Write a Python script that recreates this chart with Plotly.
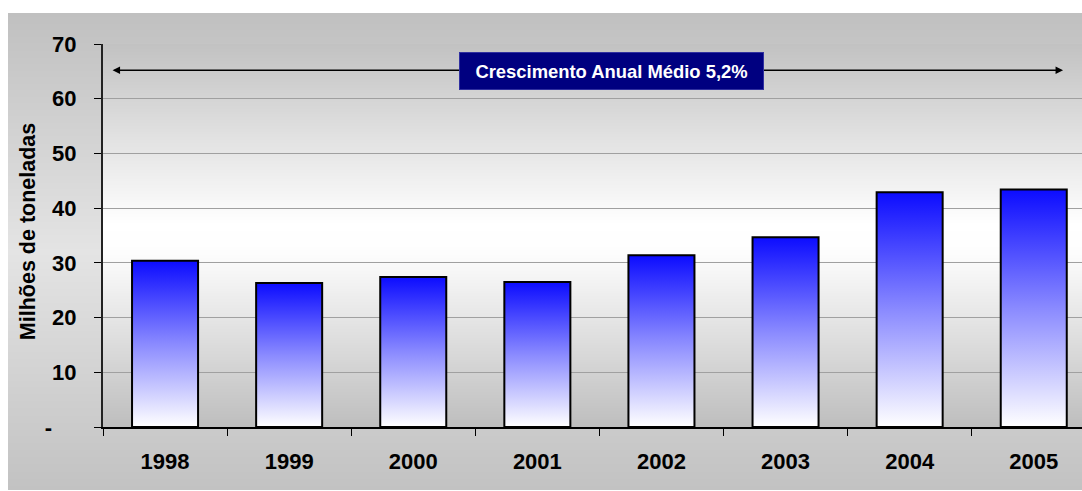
import base64
import struct
import zlib

import plotly.graph_objects as go

# ---------------- data ----------------
years = ["1998", "1999", "2000", "2001", "2002", "2003", "2004", "2005"]
values = [30.4, 26.3, 27.4, 26.5, 31.4, 34.7, 42.9, 43.4]
y_tickvals = [0, 10, 20, 30, 40, 50, 60, 70]
y_ticktext = ["-\u00a0\u00a0\u00a0\u00a0", "10", "20", "30", "40", "50", "60", "70"]
y_title = "Milhões de toneladas"
growth_label = "Crescimento Anual Médio 5,2%"
growth_level = 65.2
arrow_from = -0.435
arrow_to = 7.236
label_pos = 3.6

# ---------------- helpers ----------------
W, H = 1082, 491
ML, MR, MT, MB = 103, 0, 44, 64
PW, PH = W - ML - MR, H - MT - MB
BAR_W = 0.532
FONT = "Liberation Sans, Arial, sans-serif"


def hex2rgb(h):
    h = h.lstrip("#")
    return tuple(int(h[i:i + 2], 16) for i in (0, 2, 4))


def gradient_png(stops, n=400):
    rows = []
    for k in range(n):
        t = k / (n - 1)
        for (t0, c0), (t1, c1) in zip(stops[:-1], stops[1:]):
            if t0 <= t <= t1:
                f = 0 if t1 == t0 else (t - t0) / (t1 - t0)
                a, b = hex2rgb(c0), hex2rgb(c1)
                rows.append(tuple(round(a[i] + (b[i] - a[i]) * f) for i in range(3)))
                break
    raw = b"".join(b"\x00" + bytes(r) for r in rows)

    def chunk(tag, data):
        return (struct.pack(">I", len(data)) + tag + data
                + struct.pack(">I", zlib.crc32(tag + data) & 0xFFFFFFFF))

    png = (b"\x89PNG\r\n\x1a\n"
           + chunk(b"IHDR", struct.pack(">IIBBBBB", 1, n, 8, 2, 0, 0, 0))
           + chunk(b"IDAT", zlib.compress(raw, 9))
           + chunk(b"IEND", b""))
    return "data:image/png;base64," + base64.b64encode(png).decode()


outer_bg = gradient_png([(0, "#c0c0c0"), (0.5, "#e4e4e4"), (1, "#c2c2c2")])
plot_bg = gradient_png([(0, "#c2c2c2"), (0.47, "#ffffff"), (0.55, "#fdfdfd"), (1, "#bebebe")])

fig = go.Figure()

for i, (yr, v) in enumerate(zip(years, values)):
    x0, x1 = i - BAR_W / 2, i + BAR_W / 2
    fig.add_trace(go.Scatter(
        x=[x0, x0, x1, x1, x0],
        y=[0, v, v, 0, 0],
        mode="lines",
        fill="toself",
        fillgradient=dict(type="vertical",
                          colorscale=[[0, "#ffffff"], [0.5, "#8a8aff"], [1, "#0c0cff"]]),
        line=dict(color="#000000", width=2),
        name=yr,
        hoverinfo="skip",
        showlegend=False,
    ))

# ---------------- layout ----------------
fig.update_layout(
    width=W, height=H,
    margin=dict(l=ML, r=MR, t=MT, b=MB, pad=0),
    paper_bgcolor="#ffffff",
    plot_bgcolor="rgba(0,0,0,0)",
    font=dict(family=FONT, size=22, color="#000000"),
    showlegend=False,
    images=[
        dict(source=outer_bg, xref="paper", yref="paper",
             x=-(ML - 8) / PW, y=1 + (MT - 13) / PH,
             sizex=(W - 8) / PW, sizey=(490 - 13) / PH,
             sizing="stretch", layer="below", xanchor="left", yanchor="top"),
        dict(source=plot_bg, xref="paper", yref="paper",
             x=0, y=1, sizex=1, sizey=1,
             sizing="stretch", layer="below", xanchor="left", yanchor="top"),
    ],
)

fig.update_xaxes(
    range=[-0.5, -0.5 + PW / 124.1],
    tickmode="array",
    tickvals=list(range(len(years))),
    ticktext=years,
    ticks="",
    tickfont=dict(family=FONT, size=22, weight="bold"),
    ticklabelstandoff=14,
    showgrid=False,
    zeroline=False,
    showline=True,
    linecolor="#000000",
    linewidth=2,
    minor=dict(ticks="outside", tickmode="linear", tick0=-0.5, dtick=1,
               ticklen=7, tickcolor="#000000", tickwidth=1, showgrid=False),
    fixedrange=True,
)

fig.update_yaxes(
    range=[0, 70],
    tickmode="array",
    tickvals=y_tickvals,
    ticktext=y_ticktext,
    ticks="outside",
    ticklen=7,
    tickcolor="#000000",
    tickwidth=1,
    tickfont=dict(family=FONT, size=22, weight="bold"),
    ticklabelstandoff=13,
    showgrid=True,
    gridcolor="#a0a0a0",
    gridwidth=1,
    zeroline=False,
    showline=True,
    linecolor="#222222",
    linewidth=2,
    fixedrange=True,
)

# y-axis title
fig.add_annotation(
    text=f"<b>{y_title}</b>",
    xref="paper", yref="paper",
    x=(27.5 - ML) / PW, y=0.51,
    xanchor="center", yanchor="middle",
    textangle=-90, showarrow=False,
    font=dict(family=FONT, size=21.5, color="#000000"),
)

# double-headed arrow
fig.add_annotation(
    x=arrow_to, y=growth_level, ax=arrow_from, ay=growth_level,
    xref="x", yref="y", axref="x", ayref="y",
    text="", showarrow=True,
    arrowhead=2, startarrowhead=2, arrowside="end+start",
    arrowsize=1, startarrowsize=1, arrowwidth=1.5, arrowcolor="#000000",
    standoff=0, startstandoff=0,
)

# label box
fig.add_annotation(
    x=label_pos, y=growth_level - 0.1, xref="x", yref="y",
    text=f"<b>{growth_label}</b>", showarrow=False,
    bgcolor="#000080", bordercolor="#3030a0", borderwidth=1,
    width=301, height=34, borderpad=1,
    font=dict(family=FONT, size=18.4, color="#ffffff"),
    xanchor="center", yanchor="middle",
)

fig.write_html("out.html")
